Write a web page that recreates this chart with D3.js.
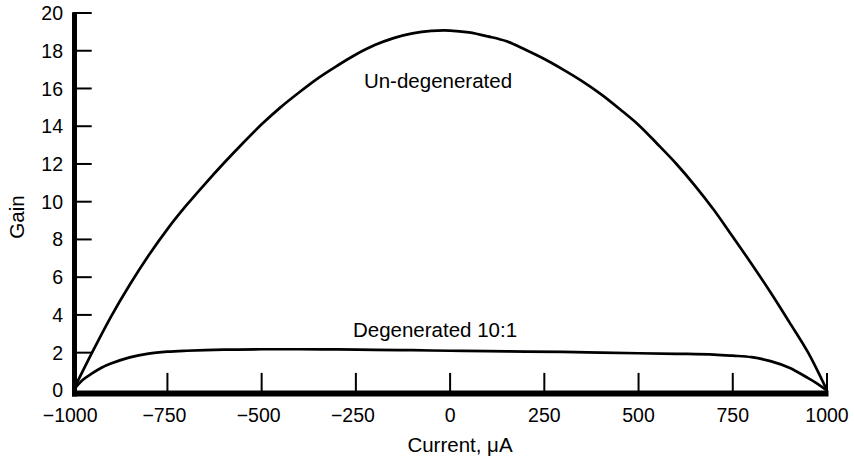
<!DOCTYPE html>
<html>
<head>
<meta charset="utf-8">
<script src="https://cdn.jsdelivr.net/npm/d3@7"></script>
<style>
    body { margin: 0; background: #fff; }
    text { font-family: "Liberation Sans", Arial, Helvetica, sans-serif; fill: #000; }
</style>
</head>
<body>
<div id="chart"></div>
<script>
// current in microamps
let current = [-1000, -950, -900, -850, -800, -750, -700, -650, -600, -550, -500, -450, -400, -350, -300,
    -250, -200, -150, -100, -50, 0, 50, 100, 150, 200, 250, 300, 350, 400, 450, 500, 550, 600, 650,
    700, 750, 800, 850, 900, 950, 1000];
let gainUndegenerated = [0, 2.0, 3.9, 5.6, 7.15, 8.55, 9.8, 10.95, 12.05, 13.1, 14.1, 15.0, 15.8, 16.55, 17.2,
    17.8, 18.3, 18.67, 18.92, 19.05, 19.07, 18.97, 18.76, 18.5, 18.05, 17.56, 17.0, 16.39, 15.7, 14.91,
    14.07, 13.06, 12.01, 10.84, 9.56, 8.14, 6.7, 5.2, 3.62, 2.0, 0];

let currentDegen = [-1000, -975, -950, -925, -900, -850, -800, -750, -700, -600, -500, -400, -300, -200,
    -100, 0, 100, 200, 300, 400, 500, 600, 700, 750, 800, 850, 900, 950, 975, 1000];
let gainDegenerated = [0, 0.55, 0.9, 1.2, 1.42, 1.75, 1.95, 2.05, 2.1, 2.16, 2.18, 2.18, 2.17, 2.15,
    2.13, 2.1, 2.08, 2.06, 2.04, 2.0, 1.97, 1.94, 1.9, 1.84, 1.76, 1.55, 1.2, 0.65, 0.35, 0];

let xTicks = [-1000, -750, -500, -250, 0, 250, 500, 750, 1000];
let yTicks = [0, 2, 4, 6, 8, 10, 12, 14, 16, 18, 20];

function drawChart() {
    let svg = d3.select('#chart').append('svg')
        .attr('width', 854)
        .attr('height', 463);

    let x = d3.scaleLinear().domain([-1000, 1000]).range([73.2, 827]);
    let y = d3.scaleLinear().domain([0, 20]).range([390.4, 13]);

    // curves
    let line = d3.line()
        .x(d => x(d[0]))
        .y(d => y(d[1]))
        .curve(d3.curveCatmullRom.alpha(0.5));

    svg.append('path')
        .datum(d3.zip(current, gainUndegenerated))
        .attr('d', line)
        .attr('fill', 'none')
        .attr('stroke', '#000')
        .attr('stroke-width', 2.7);

    svg.append('path')
        .datum(d3.zip(currentDegen, gainDegenerated))
        .attr('d', line)
        .attr('fill', 'none')
        .attr('stroke', '#000')
        .attr('stroke-width', 2.7);

    // y ticks point inward
    svg.selectAll('.ytick')
        .data(yTicks.filter(d => d > 0))
        .enter().append('line')
        .attr('x1', x(-1000))
        .attr('x2', x(-1000) + 18.5)
        .attr('y1', d => y(d))
        .attr('y2', d => y(d))
        .attr('stroke', '#000')
        .attr('stroke-width', 2);

    svg.selectAll('.ylabel')
        .data(yTicks)
        .enter().append('text')
        .attr('x', 63)
        .attr('y', d => y(d))
        .attr('dy', '0.36em')
        .attr('text-anchor', 'end')
        .style('font-size', '19.5px')
        .text(d => d);

    // x ticks point upward
    svg.selectAll('.xtick')
        .data(xTicks.filter(d => d > -1000))
        .enter().append('line')
        .attr('x1', d => x(d))
        .attr('x2', d => x(d))
        .attr('y1', y(0) + 1)
        .attr('y2', y(0) - 17.5)
        .attr('stroke', '#000')
        .attr('stroke-width', 2);

    svg.selectAll('.xlabel')
        .data(xTicks)
        .enter().append('text')
        .attr('x', d => x(d) + (d < 0 ? -3 : 0))
        .attr('y', 421.7)
        .attr('text-anchor', 'middle')
        .style('font-size', '19.5px')
        .text(d => d < 0 ? '\u2212' + Math.abs(d) : d);

    // heavy axis lines
    svg.append('line')
        .attr('x1', x(-1000) + 1.3)
        .attr('x2', x(-1000) + 1.3)
        .attr('y1', y(20) - 0.8)
        .attr('y2', y(0) + 6)
        .attr('stroke', '#000')
        .attr('stroke-width', 5);

    svg.append('line')
        .attr('x1', x(-1000) - 1.2)
        .attr('x2', x(1000) + 1.5)
        .attr('y1', y(0) + 3)
        .attr('y2', y(0) + 3)
        .attr('stroke', '#000')
        .attr('stroke-width', 6);

    // labels
    svg.append('text')
        .attr('x', 438)
        .attr('y', 88)
        .attr('text-anchor', 'middle')
        .style('font-size', '20.5px')
        .text('Un-degenerated');

    svg.append('text')
        .attr('x', 435)
        .attr('y', 337)
        .attr('text-anchor', 'middle')
        .style('font-size', '20.5px')
        .text('Degenerated 10:1');

    svg.append('text')
        .attr('x', 460)
        .attr('y', 451.7)
        .attr('text-anchor', 'middle')
        .style('font-size', '20.5px')
        .text('Current, \u03bcA');

    svg.append('text')
        .attr('transform', 'translate(24,217) rotate(-90)')
        .attr('text-anchor', 'middle')
        .style('font-size', '20.5px')
        .text('Gain');
}

drawChart();
</script>
</body>
</html>
